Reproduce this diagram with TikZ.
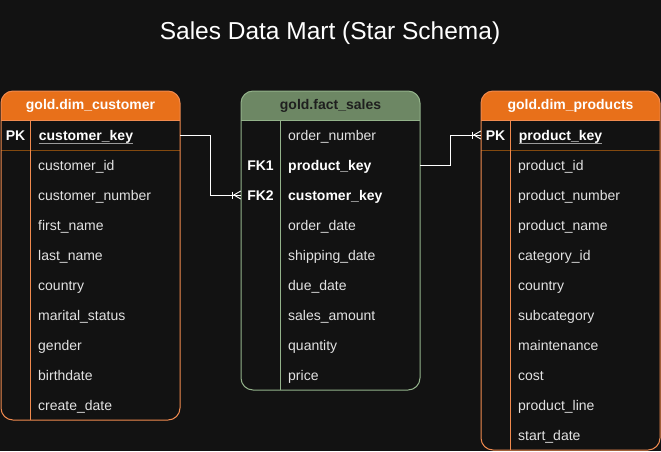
\documentclass[tikz,border=0pt]{standalone}
\usepackage{fontspec}
\setmainfont{Liberation Sans}
\usetikzlibrary{positioning}
\definecolor{bgdark}{HTML}{121212}
\definecolor{orhead}{HTML}{E8701A}
\definecolor{orborder}{HTML}{F08A4E}
\definecolor{orsep}{HTML}{83490F}
\definecolor{grhead}{HTML}{6D8764}
\definecolor{grborder}{HTML}{93B28A}
\definecolor{fieldgray}{HTML}{E2E2E2}
\definecolor{ulgray}{HTML}{9A9A9A}
\newcommand{\keyline}[1]{\tikz[baseline=(k.base)]{\node[inner sep=0pt] (k) {#1};\draw[ulgray,line width=1pt] ([yshift=-2.5pt]k.base west) -- ([yshift=-2.5pt]k.base east);}}

\begin{document}
\begin{tikzpicture}[x=1pt,y=-1pt,
  field/.style={anchor=west,inner xsep=8pt,inner ysep=0pt,minimum height=30pt,text height=12pt,text depth=1pt,text width=134pt,text=fieldgray,font=\fontsize{14}{16}\selectfont},
  keyfield/.style={field,text=white,font=\fontsize{14}{16}\selectfont\bfseries},
  keytxt/.style={inner sep=0pt,minimum width=29pt,minimum height=30pt,text height=12pt,text depth=1pt,text=white,font=\fontsize{14}{16}\selectfont\bfseries},
  headtxt/.style={inner sep=0pt,text height=10.5pt,text depth=3.5pt,font=\fontsize{14}{16}\selectfont\bfseries},
  rel/.style={draw=white,line width=0.9pt}]
\path[use as bounding box] (0,0) rectangle (661,451);
\fill[bgdark] (0,0) rectangle (661,451);

\node[text=white,font=\fontsize{24.5}{28}\selectfont] (title) at (330,33) {Sales Data Mart (Star Schema)};

% customer dimension
\begin{scope}
  \clip[rounded corners=12pt] (1,91) rectangle (180,420);
  \fill[bgdark] (1,91) rectangle (180,420);
  \fill[orhead] (1,91) rectangle (180,120);
\end{scope}
\draw[orsep,line width=0.8pt] (1,150) -- (180,150);
\draw[orborder] (1,120) -- (180,120);
\draw[orborder] (30,120) -- (30,420);
\draw[orborder,line width=1pt,rounded corners=12pt] (1,91) rectangle (180,420);
\node[headtxt,text=white] (dcust) at (90.5,105.5) {gold.dim\_customer};
\node[keytxt] (cpk) at (15.5,135) {PK};
\node[keyfield] (ckey) at (30,135) {\keyline{customer\_key}};
\foreach \f [count=\i] in {customer\_id,customer\_number,first\_name,last\_name,country,marital\_status,gender,birthdate,create\_date}
  \node[field] (c\i) at (30,135+30*\i) {\f};

% fact table
\begin{scope}
  \clip[rounded corners=12pt] (241,91) rectangle (420,390);
  \fill[bgdark] (241,91) rectangle (420,390);
  \fill[grhead] (241,91) rectangle (420,120);
\end{scope}
\draw[grborder] (241,120) -- (420,120);
\draw[grborder] (280,120) -- (280,390);
\draw[grborder,line width=1pt,rounded corners=12pt] (241,91) rectangle (420,390);
\node[headtxt,text=black!88] (fsales) at (330.5,105.5) {gold.fact\_sales};
\node[field,text width=124pt] (onum) at (280,135) {order\_number};
\node[keytxt,minimum width=39pt] (fk1) at (260.5,165) {FK1};
\node[keyfield,text width=124pt] (pkey) at (280,165) {product\_key};
\node[keytxt,minimum width=39pt] (fk2) at (260.5,195) {FK2};
\node[keyfield,text width=124pt] (ckeyf) at (280,195) {customer\_key};
\foreach \f [count=\i] in {order\_date,shipping\_date,due\_date,sales\_amount,quantity,price}
  \node[field,text width=124pt] (s\i) at (280,195+30*\i) {\f};

% products dimension
\begin{scope}
  \clip[rounded corners=12pt] (481,91) rectangle (660,450);
  \fill[bgdark] (481,91) rectangle (660,450);
  \fill[orhead] (481,91) rectangle (660,120);
\end{scope}
\draw[orsep,line width=0.8pt] (481,150) -- (660,150);
\draw[orborder] (481,120) -- (660,120);
\draw[orborder] (510,120) -- (510,450);
\draw[orborder,line width=1pt,rounded corners=12pt] (481,91) rectangle (660,450);
\node[headtxt,text=white] (dprod) at (570.5,105.5) {gold.dim\_products};
\node[keytxt] (ppk) at (495.5,135) {PK};
\node[keyfield] (pkeyd) at (510,135) {\keyline{product\_key}};
\foreach \f [count=\i] in {product\_id,product\_number,product\_name,category\_id,country,subcategory,maintenance,cost,product\_line,start\_date}
  \node[field] (p\i) at (510,135+30*\i) {\f};

% relations
\draw[rel] (ckey.east) -- ++(30,0) |- (fk2.west);
\draw[rel] ([xshift=-8pt,yshift=3.5pt]fk2.west) -- ++(0,7);
\draw[rel] ([yshift=4pt]fk2.west) -- ([xshift=-7pt]fk2.west) -- ([yshift=-4pt]fk2.west);
\draw[rel] (pkey.east) -- ++(30,0) |- (ppk.west);
\draw[rel] ([xshift=-8pt,yshift=3.5pt]ppk.west) -- ++(0,7);
\draw[rel] ([yshift=4pt]ppk.west) -- ([xshift=-7pt]ppk.west) -- ([yshift=-4pt]ppk.west);
\end{tikzpicture}
\end{document}
